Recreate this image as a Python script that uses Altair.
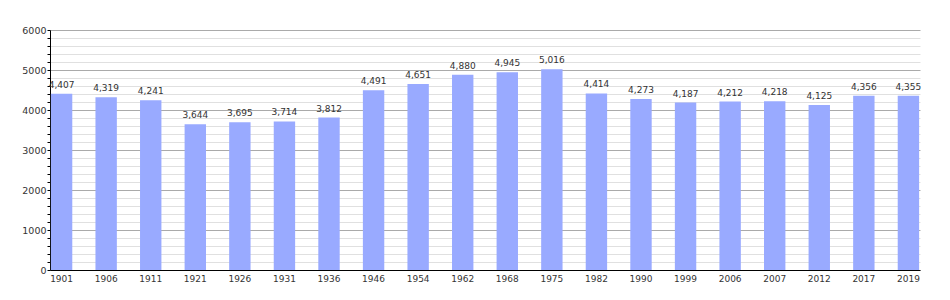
import altair as alt
import pandas as pd

years = ["1901", "1906", "1911", "1921", "1926", "1931", "1936", "1946", "1954", "1962",
         "1968", "1975", "1982", "1990", "1999", "2006", "2007", "2012", "2017", "2019"]
population = [4407, 4319, 4241, 3644, 3695, 3714, 3812, 4491, 4651, 4880,
              4945, 5016, 4414, 4273, 4187, 4212, 4218, 4125, 4356, 4355]

df = pd.DataFrame({"year": years, "pop": population})

FONT = "DejaVu Sans"
TXT = "#333333"

x = alt.X("year:O", sort=years, title=None,
          scale=alt.Scale(paddingInner=0.52, paddingOuter=0.02),
          axis=alt.Axis(labelAngle=0, ticks=False, domainColor="#000000", domainWidth=1,
                        labelFont=FONT, labelFontSize=9, labelColor=TXT, labelPadding=4,
                        grid=False))

y = alt.Y("pop:Q", title=None,
          scale=alt.Scale(domain=[0, 6000], nice=False),
          axis=alt.Axis(values=list(range(0, 6001, 200)),
                        labelExpr="datum.value % 1000 === 0 ? format(datum.value, 'd') : ''",
                        labelOverlap=False,
                        grid=True,
                        gridColor={"condition": {"test": "datum.value % 1000 === 0", "value": "#aaaaaa"},
                                   "value": "#e0e0e0"},
                        gridWidth=1,
                        tickSize=3, tickColor="#000000",
                        domainColor="#000000", domainWidth=1,
                        labelFont=FONT, labelFontSize=9.5, labelColor=TXT, labelPadding=1))

base = alt.Chart(df).encode(x=x, y=y)
bars = base.mark_bar(color="#99aaff")
labels = base.mark_text(baseline="bottom", dy=-4, font=FONT, fontSize=9, color=TXT).encode(
    text=alt.Text("pop:Q", format=",d"))

chart = (bars + labels).properties(
    width=870, height=240,
    autosize=alt.AutoSizeParams(type="none"),
    padding={"left": 50, "top": 30, "right": 30, "bottom": 30},
    background="white",
).configure_view(stroke=None)

chart.save("out.html", embed_options={"renderer": "svg", "actions": False})
